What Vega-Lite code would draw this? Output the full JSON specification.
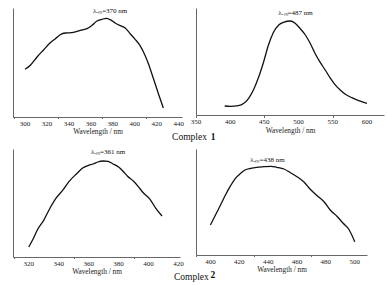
{
  "$schema": "https://vega.github.io/schema/vega-lite/v6.json",
  "padding": {"left": 13, "top": 6, "right": 2, "bottom": 2},
  "background": "white",
  "bounds": "flush",
  "columns": 2,
  "spacing": {"row": 32, "column": 14},
  "config": {
    "view": {"stroke": null},
    "font": "Liberation Serif",
    "axis": {
      "domainColor": "#666",
      "tickColor": "#666",
      "titleFont": "Liberation Serif",
      "titleFontSize": 7.3,
      "titleFontWeight": "normal",
      "titleColor": "#222",
      "grid": false,
      "labels": false,
      "titlePadding": 8.5
    },
    "text": {"font": "Liberation Serif", "color": "#222"},
    "title": {"font": "Liberation Serif", "fontSize": 9.5, "fontWeight": "normal", "color": "#111"}
  },
  "datasets": {
    "c1ex": [
      {"wavelength": 300, "intensity": 47.7}, {"wavelength": 304.8, "intensity": 51.7},
      {"wavelength": 310.9, "intensity": 60}, {"wavelength": 317, "intensity": 67.3},
      {"wavelength": 322.4, "intensity": 73.7}, {"wavelength": 327.6, "intensity": 78.3},
      {"wavelength": 332, "intensity": 82.3}, {"wavelength": 336.7, "intensity": 84},
      {"wavelength": 342.7, "intensity": 84.3}, {"wavelength": 347.3, "intensity": 85.7},
      {"wavelength": 351.8, "intensity": 87}, {"wavelength": 356.4, "intensity": 88.3},
      {"wavelength": 361, "intensity": 91.7}, {"wavelength": 365.5, "intensity": 96},
      {"wavelength": 370, "intensity": 97.7}, {"wavelength": 374, "intensity": 98.7},
      {"wavelength": 377.6, "intensity": 97.3}, {"wavelength": 382.1, "intensity": 94},
      {"wavelength": 386.7, "intensity": 91.3}, {"wavelength": 391.2, "intensity": 89},
      {"wavelength": 395.8, "intensity": 83.3}, {"wavelength": 400.3, "intensity": 77.7},
      {"wavelength": 404.2, "intensity": 72.3}, {"wavelength": 407.9, "intensity": 65},
      {"wavelength": 412.4, "intensity": 53.3}, {"wavelength": 417, "intensity": 38.3},
      {"wavelength": 421.5, "intensity": 23.3}, {"wavelength": 426, "intensity": 9}
    ],
    "c1em": [
      {"wavelength": 392, "intensity": 9}, {"wavelength": 400, "intensity": 8.7},
      {"wavelength": 412, "intensity": 9.3}, {"wavelength": 420, "intensity": 11.7},
      {"wavelength": 427, "intensity": 16.7}, {"wavelength": 434, "intensity": 25},
      {"wavelength": 441, "intensity": 36.7}, {"wavelength": 449, "intensity": 53.3},
      {"wavelength": 456, "intensity": 70}, {"wavelength": 463, "intensity": 82.3},
      {"wavelength": 471, "intensity": 90}, {"wavelength": 478, "intensity": 92.7},
      {"wavelength": 488, "intensity": 94}, {"wavelength": 495, "intensity": 91.7},
      {"wavelength": 502, "intensity": 86.7}, {"wavelength": 510, "intensity": 80},
      {"wavelength": 517, "intensity": 71.7}, {"wavelength": 524, "intensity": 61.7},
      {"wavelength": 531, "intensity": 53.3}, {"wavelength": 539, "intensity": 45},
      {"wavelength": 546, "intensity": 37.3}, {"wavelength": 553, "intensity": 30.7},
      {"wavelength": 561, "intensity": 25}, {"wavelength": 568, "intensity": 21},
      {"wavelength": 578, "intensity": 17.3}, {"wavelength": 587, "intensity": 14.7},
      {"wavelength": 600, "intensity": 11.7}
    ],
    "c2ex": [
      {"wavelength": 320, "intensity": 10}, {"wavelength": 323, "intensity": 18.3},
      {"wavelength": 326, "intensity": 27.7}, {"wavelength": 330, "intensity": 36.7},
      {"wavelength": 334, "intensity": 48.3}, {"wavelength": 338, "intensity": 58.3},
      {"wavelength": 343, "intensity": 67.3}, {"wavelength": 347, "intensity": 75.7},
      {"wavelength": 352, "intensity": 83.3}, {"wavelength": 356, "intensity": 89},
      {"wavelength": 360, "intensity": 91.7}, {"wavelength": 363, "intensity": 93},
      {"wavelength": 366, "intensity": 95}, {"wavelength": 370, "intensity": 96},
      {"wavelength": 373, "intensity": 95.7}, {"wavelength": 376, "intensity": 93.3},
      {"wavelength": 380, "intensity": 90}, {"wavelength": 383, "intensity": 85.7},
      {"wavelength": 386, "intensity": 80.7}, {"wavelength": 390, "intensity": 75.7},
      {"wavelength": 393, "intensity": 70.7}, {"wavelength": 396, "intensity": 65},
      {"wavelength": 401, "intensity": 57.7}, {"wavelength": 405, "intensity": 48.3},
      {"wavelength": 409, "intensity": 41}
    ],
    "c2em": [
      {"wavelength": 400, "intensity": 30}, {"wavelength": 403.5, "intensity": 40},
      {"wavelength": 407, "intensity": 50}, {"wavelength": 410.4, "intensity": 60},
      {"wavelength": 414, "intensity": 69.3}, {"wavelength": 417.3, "intensity": 76.7},
      {"wavelength": 421, "intensity": 81.7}, {"wavelength": 424, "intensity": 85},
      {"wavelength": 428, "intensity": 86.7}, {"wavelength": 432, "intensity": 87.7},
      {"wavelength": 437, "intensity": 88.3}, {"wavelength": 442, "intensity": 88.7},
      {"wavelength": 446, "intensity": 87.7}, {"wavelength": 451, "intensity": 86},
      {"wavelength": 455, "intensity": 82.7}, {"wavelength": 460, "intensity": 78.3},
      {"wavelength": 465, "intensity": 72.7}, {"wavelength": 469, "intensity": 66},
      {"wavelength": 474, "intensity": 59.3}, {"wavelength": 479, "intensity": 52.7},
      {"wavelength": 483, "intensity": 45}, {"wavelength": 488, "intensity": 38.3},
      {"wavelength": 492, "intensity": 31.7}, {"wavelength": 496, "intensity": 25.5},
      {"wavelength": 500, "intensity": 13.3}
    ]
  },
  "concat": [
    {
      "width": 169, "height": 109,
      "title": {"text": "Complex", "orient": "bottom", "anchor": "end", "dx": 23, "offset": -3},
      "layer": [
        {
          "data": {"name": "c1ex"},
          "mark": {"type": "line", "color": "#111", "strokeWidth": 1.3, "interpolate": "monotone"},
          "encoding": {
            "x": {"field": "wavelength", "type": "quantitative", "scale": {"domain": [289, 443], "nice": false, "zero": false},
                  "axis": {"values": [290, 300, 310, 320, 330, 340, 350, 360, 370, 380, 390, 400, 410, 420, 430, 440],
                           "tickSize": {"condition": {"test": "datum.value % 20 === 0", "value": 2.5}, "value": 1.5},
                           "title": "Wavelength / nm"}},
            "y": {"field": "intensity", "type": "quantitative", "scale": {"domain": [0, 109], "nice": false},
                  "axis": {"ticks": false, "title": null}}
          }
        },
        {
          "data": {"values": [{"tick": 300}, {"tick": 320}, {"tick": 340}, {"tick": 360}, {"tick": 380}, {"tick": 400}, {"tick": 420}, {"tick": 440}]},
          "mark": {"type": "text", "fontSize": 7, "baseline": "top"},
          "encoding": {
            "x": {"field": "tick", "type": "quantitative"},
            "y": {"datum": -2.5},
            "text": {"field": "tick", "type": "quantitative"}
          }
        },
        {
          "data": {"values": [{"wavelength": 377.5, "intensity": 106.5, "label": "λₑₘ=370 nm"}]},
          "mark": {"type": "text", "fontSize": 7, "color": "#111", "baseline": "middle"},
          "encoding": {
            "x": {"field": "wavelength", "type": "quantitative"},
            "y": {"field": "intensity", "type": "quantitative"},
            "text": {"field": "label"}
          }
        }
      ]
    },
    {
      "width": 188, "height": 107,
      "title": {"text": "1", "orient": "bottom", "anchor": "start", "dx": 20, "offset": -2, "fontWeight": "bold"},
      "layer": [
        {
          "data": {"name": "c1em"},
          "mark": {"type": "line", "color": "#111", "strokeWidth": 1.3, "interpolate": "monotone"},
          "encoding": {
            "x": {"field": "wavelength", "type": "quantitative", "scale": {"domain": [350, 625], "nice": false, "zero": false},
                  "axis": {"values": [350, 375, 400, 425, 450, 475, 500, 525, 550, 575, 600, 625],
                           "tickSize": {"condition": {"test": "datum.value % 50 === 0", "value": 2.5}, "value": 1.5},
                           "title": "Wavelength / nm"}},
            "y": {"field": "intensity", "type": "quantitative", "scale": {"domain": [0, 107], "nice": false},
                  "axis": {"ticks": false, "title": null}}
          }
        },
        {
          "data": {"values": [{"tick": 350}, {"tick": 400}, {"tick": 450}, {"tick": 500}, {"tick": 550}, {"tick": 600}]},
          "mark": {"type": "text", "fontSize": 7, "baseline": "top"},
          "encoding": {
            "x": {"field": "tick", "type": "quantitative"},
            "y": {"datum": -2.5},
            "text": {"field": "tick", "type": "quantitative"}
          }
        },
        {
          "data": {"values": [{"wavelength": 495.6, "intensity": 101.6, "label": "λₑₘ=487 nm"}]},
          "mark": {"type": "text", "fontSize": 7, "color": "#111", "baseline": "middle"},
          "encoding": {
            "x": {"field": "wavelength", "type": "quantitative"},
            "y": {"field": "intensity", "type": "quantitative"},
            "text": {"field": "label"}
          }
        }
      ]
    },
    {
      "width": 167, "height": 108,
      "title": {"text": "Complex", "orient": "bottom", "anchor": "end", "dx": 25, "offset": -3},
      "layer": [
        {
          "data": {"name": "c2ex"},
          "mark": {"type": "line", "color": "#111", "strokeWidth": 1.3, "interpolate": "monotone"},
          "encoding": {
            "x": {"field": "wavelength", "type": "quantitative", "scale": {"domain": [309.5, 421], "nice": false, "zero": false},
                  "axis": {"values": [310, 320, 330, 340, 350, 360, 370, 380, 390, 400, 410, 420],
                           "tickSize": {"condition": {"test": "datum.value % 20 === 0", "value": 2.5}, "value": 1.5},
                           "title": "Wavelength / nm"}},
            "y": {"field": "intensity", "type": "quantitative", "scale": {"domain": [0, 108], "nice": false},
                  "axis": {"ticks": false, "title": null}}
          }
        },
        {
          "data": {"values": [{"tick": 320}, {"tick": 340}, {"tick": 360}, {"tick": 380}, {"tick": 400}, {"tick": 420}]},
          "mark": {"type": "text", "fontSize": 7, "baseline": "top"},
          "encoding": {
            "x": {"field": "tick", "type": "quantitative"},
            "y": {"datum": -2.5},
            "text": {"field": "tick", "type": "quantitative"}
          }
        },
        {
          "data": {"values": [{"wavelength": 373, "intensity": 105, "label": "λₑₘ=361 nm"}]},
          "mark": {"type": "text", "fontSize": 7, "color": "#111", "baseline": "middle"},
          "encoding": {
            "x": {"field": "wavelength", "type": "quantitative"},
            "y": {"field": "intensity", "type": "quantitative"},
            "text": {"field": "label"}
          }
        }
      ]
    },
    {
      "width": 171, "height": 106,
      "title": {"text": "2", "orient": "bottom", "anchor": "start", "dx": 15, "offset": -3, "fontWeight": "bold"},
      "layer": [
        {
          "data": {"name": "c2em"},
          "mark": {"type": "line", "color": "#111", "strokeWidth": 1.3, "interpolate": "monotone"},
          "encoding": {
            "x": {"field": "wavelength", "type": "quantitative", "scale": {"domain": [390, 508.5], "nice": false, "zero": false},
                  "axis": {"values": [390, 400, 410, 420, 430, 440, 450, 460, 470, 480, 490, 500],
                           "tickSize": {"condition": {"test": "datum.value % 20 === 0", "value": 2.5}, "value": 1.5},
                           "title": "Wavelength / nm"}},
            "y": {"field": "intensity", "type": "quantitative", "scale": {"domain": [0, 106], "nice": false},
                  "axis": {"ticks": false, "title": null}}
          }
        },
        {
          "data": {"values": [{"tick": 400}, {"tick": 420}, {"tick": 440}, {"tick": 460}, {"tick": 480}, {"tick": 500}]},
          "mark": {"type": "text", "fontSize": 7, "baseline": "top"},
          "encoding": {
            "x": {"field": "tick", "type": "quantitative"},
            "y": {"datum": -2.5},
            "text": {"field": "tick", "type": "quantitative"}
          }
        },
        {
          "data": {"values": [{"wavelength": 439.5, "intensity": 95, "label": "λₑₘ=438 nm"}]},
          "mark": {"type": "text", "fontSize": 7, "color": "#111", "baseline": "middle"},
          "encoding": {
            "x": {"field": "wavelength", "type": "quantitative"},
            "y": {"field": "intensity", "type": "quantitative"},
            "text": {"field": "label"}
          }
        }
      ]
    }
  ]
}
